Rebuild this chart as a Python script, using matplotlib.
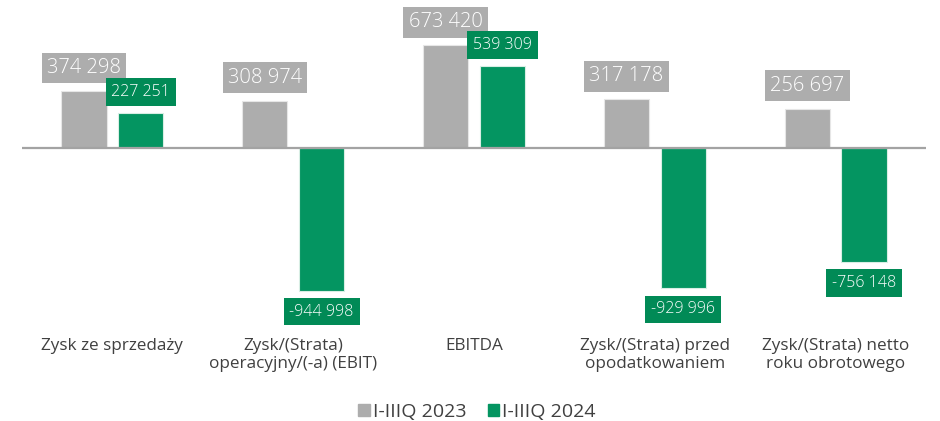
import matplotlib.pyplot as plt
import numpy as np

plt.rcParams['font.family'] = ['Open Sans', 'DejaVu Sans']

categories = ['Zysk ze sprzedaży', 'Zysk/(Strata)\noperacyjny/(-a) (EBIT)', 'EBITDA',
              'Zysk/(Strata) przed\nopodatkowaniem', 'Zysk/(Strata) netto\nroku obrotowego']
v2023 = [374298, 308974, 673420, 317178, 256697]
v2024 = [227251, -944998, 539309, -929996, -756148]
series_names = ['I-IIIQ 2023', 'I-IIIQ 2024']

GRAY = '#adadad'
GREEN = '#049561'
GREEN_BOX = '#018a56'
TEXT = '#404040'

W, H = 940, 421
fig = plt.figure(figsize=(W / 100, H / 100), dpi=100)

# axes placed in pixels: x 22..926, y 10..330, zero near y=147.5
left, right, top, bottom = 22, 926, 10, 330
ax = fig.add_axes([left / W, 1 - bottom / H, (right - left) / W, (bottom - top) / H])
scale = 6600  # value per pixel
zero_px = 147.5
ax.set_ylim(-(bottom - zero_px) * scale, (zero_px - top) * scale)
ax.set_xlim(-0.5, len(categories) - 0.5)

x = np.arange(len(categories))
off = 0.157
bw = 0.25
ax.bar(x - off, v2023, bw, color=GRAY, edgecolor='#e6e6e6', linewidth=0.8, zorder=2)
ax.bar(x + off, v2024, bw, color=GREEN, edgecolor='#d8eee4', linewidth=0.8, zorder=2)
ax.axhline(0, color='#a3a3a3', linewidth=1.6, zorder=3)

def fmt(v):
    s = f'{abs(v):,}'.replace(',', ' ')
    return '-' + s if v < 0 else s

for xi, v in zip(x, v2023):
    ax.annotate(fmt(v), (xi - off, v), xytext=(0, 23), textcoords='offset pixels',
                ha='center', va='center', fontsize=14.5, color='white', fontweight='light',
                bbox=dict(boxstyle='square,pad=0.26', fc=GRAY, ec='none'))

for xi, v in zip(x, v2024):
    dy = 21 if v > 0 else -21
    ax.annotate(fmt(v), (xi + off, v), xytext=(0, dy), textcoords='offset pixels',
                ha='center', va='center', fontsize=11.5, color='white', fontweight='light',
                bbox=dict(boxstyle='square,pad=0.36', fc=GREEN_BOX, ec='none'))

ax.set_xticks(x)
ax.set_xticklabels(categories, fontsize=12.3, color=TEXT, linespacing=1.15)
ax.tick_params(axis='x', length=0, pad=6)
ax.set_yticks([])
for s in ax.spines.values():
    s.set_visible(False)

handles = [plt.Rectangle((0, 0), 1, 1, color=GRAY), plt.Rectangle((0, 0), 1, 1, color=GREEN)]
leg = fig.legend(handles, series_names, loc='center', bbox_to_anchor=(477 / W, 1 - 412 / H),
                 ncol=2, frameon=False, fontsize=14, handlelength=0.6, handleheight=0.6,
                 handletextpad=0.15, columnspacing=1.1)
for t in leg.get_texts():
    t.set_color(TEXT)

fig.savefig('out.png', dpi=100)
